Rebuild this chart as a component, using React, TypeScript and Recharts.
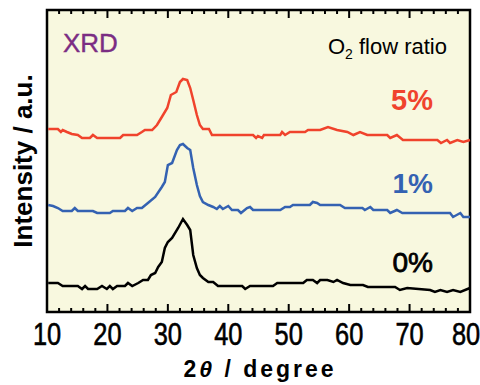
import { LineChart, Line, XAxis, YAxis, CartesianGrid, ReferenceArea } from 'recharts'

const FONT = '"Liberation Sans", Arial, sans-serif'
const W = 480
const H = 385
const MARGIN = { top: 10, right: 10, bottom: 0, left: 47 }
const X_AXIS_H = 73
const PLOT_H = H - MARGIN.top - MARGIN.bottom - X_AXIS_H

// ── Data (2θ in degree, intensity in a.u.) ─────────────────────────────────
const xTicks = [10, 12, 14, 16, 18, 20, 22, 24, 26, 28, 30, 32, 34, 36, 38, 40, 42, 44, 46, 48, 50,
  52, 54, 56, 58, 60, 62, 64, 66, 68, 70, 72, 74, 76, 78, 80]
const xDomain = [10, 80]
const yDomain = [0, 302]

const ratio5: [number, number][] = [
  [10.2, 183], [11.8, 183], [12.3, 180], [12.6, 182], [13.3, 180], [14.1, 178], [15.1, 177], [15.8, 174],
  [17.1, 174], [17.6, 177], [18.3, 174], [22.1, 174], [22.6, 177], [24.9, 177], [25.7, 180], [26.2, 182],
  [27.4, 182], [28.2, 187], [29.0, 195], [29.9, 204], [30.5, 217], [31.4, 220], [32.0, 230], [32.5, 233],
  [33.2, 232], [33.7, 224], [34.2, 212], [34.8, 197], [35.3, 187], [35.8, 183], [36.8, 183], [37.3, 177],
  [44.1, 177], [44.6, 174], [44.9, 176], [45.6, 174], [45.9, 177], [48.6, 177], [48.9, 180], [49.4, 177],
  [50.2, 180], [52.7, 180], [53.2, 182], [55.2, 182], [56.5, 185], [58.0, 182], [59.7, 180], [60.7, 177],
  [61.8, 180], [63.0, 177], [66.3, 177], [66.8, 174], [67.9, 177], [68.9, 172], [74.6, 172], [75.2, 169],
  [76.2, 172], [76.7, 169], [77.9, 172], [78.9, 170], [80.0, 172],
]

const ratio1: [number, number][] = [
  [10.2, 107], [11.0, 106], [11.8, 104], [12.6, 101], [14.1, 101], [14.6, 104], [15.1, 101], [17.6, 101],
  [18.3, 99], [20.4, 99], [20.9, 101], [22.9, 101], [23.4, 104], [24.1, 101], [24.9, 104], [25.7, 104],
  [26.7, 109], [27.9, 115], [29.0, 125], [29.5, 130], [30.0, 147], [30.7, 149], [31.5, 162], [32.0, 167],
  [32.5, 168], [33.2, 164], [33.7, 162], [34.2, 144], [34.8, 127], [35.3, 116], [35.8, 110], [36.7, 107],
  [37.5, 105], [38.1, 103], [38.6, 106], [39.1, 103], [40.0, 106], [40.6, 102], [41.6, 102], [42.1, 99],
  [43.1, 104], [43.6, 105], [44.1, 102], [48.6, 102], [49.4, 105], [50.2, 105], [50.7, 107], [53.5, 107],
  [54.0, 110], [54.7, 109], [55.2, 107], [58.5, 107], [59.3, 104], [62.2, 104], [62.6, 102], [63.5, 105],
  [64.0, 102], [66.3, 102], [66.8, 99], [67.9, 102], [68.8, 99], [76.7, 99], [77.2, 95], [78.4, 99],
  [78.9, 95], [80.0, 95],
]

const ratio0: [number, number][] = [
  [10.2, 29], [11.8, 29], [12.6, 26], [15.1, 26], [15.8, 23], [16.3, 26], [16.8, 23], [18.3, 23],
  [19.1, 26], [19.9, 23], [20.4, 26], [20.9, 23], [21.6, 26], [22.9, 26], [23.4, 29], [24.1, 26],
  [25.1, 29], [25.9, 32], [26.7, 32], [27.2, 37], [27.9, 39], [28.4, 45], [29.0, 50], [29.5, 64],
  [30.0, 70], [30.7, 74], [31.7, 84], [32.5, 93], [33.2, 87], [33.7, 82], [34.2, 57], [34.8, 44],
  [35.3, 37], [35.8, 34], [36.7, 30], [37.5, 30], [38.3, 26], [42.3, 26], [42.8, 23], [43.6, 26],
  [47.4, 26], [48.1, 29], [52.4, 29], [53.0, 32], [54.0, 32], [54.7, 29], [55.2, 32], [56.4, 32],
  [57.4, 30], [58.0, 32], [59.0, 29], [60.2, 27], [62.3, 27], [63.1, 25], [67.6, 25], [68.4, 22],
  [69.6, 24], [73.4, 22], [74.2, 20], [75.1, 22], [76.2, 20], [77.2, 22], [78.4, 20], [80.0, 24],
]

const series = [
  { name: '5%', points: ratio5, color: '#f0432c' },
  { name: '1%', points: ratio1, color: '#3462b2' },
  { name: '0%', points: ratio0, color: '#000000' },
]

const toRows = (pts: [number, number][]) => pts.map(([x, y]) => ({ x, y }))

// ── Ticks: inward on bottom and top frame, major every 10° ──────────────────
function FrameTick({ x, y, payload }: any) {
  const major = payload.value % 10 === 0
  const len = major ? 8 : 4
  const top = y - PLOT_H
  // last label sits on the right edge; nudge it in so it is not clipped
  const lx = payload.value === 80 ? x - 4 : x
  return (
    <g>
      <line x1={x} x2={x} y1={y} y2={y - len} stroke="#000" strokeWidth={2} />
      <line x1={x} x2={x} y1={top} y2={top + len} stroke="#000" strokeWidth={2} />
      {major && (
        <text transform={`translate(${lx},${y + 33}) scale(0.82,1)`} textAnchor="middle"
          fontSize={31} fontFamily={FONT} fill="#000" stroke="#000" strokeWidth={0.6}>{payload.value}</text>
      )}
    </g>
  )
}

export default function App() {
  return (
    <div style={{ position: 'fixed', left: 0, top: 0, width: W, height: H, background: '#fff' }}>
      <LineChart width={W} height={H} margin={MARGIN}>
        <CartesianGrid fill="#f8f8df" horizontal={false} vertical={false} />
        <XAxis dataKey="x" type="number" domain={xDomain} ticks={xTicks} interval={0}
          height={X_AXIS_H} axisLine={false} tickLine={false} tickSize={0} tickMargin={0} tick={<FrameTick />} />
        <YAxis type="number" domain={yDomain} hide />
        {series.map(s => (
          <Line key={s.name} data={toRows(s.points)} dataKey="y" name={s.name} stroke={s.color}
            strokeWidth={2.5} dot={false} activeDot={false} isAnimationActive={false} type="linear" />
        ))}
        <ReferenceArea x1={10} x2={80} y1={0} y2={302} fill="none" stroke="#000" strokeWidth={2.5} />
      </LineChart>
      <svg width={W} height={H} style={{ position: 'absolute', left: 0, top: 0, pointerEvents: 'none' }}
        fontFamily={FONT}>
        <text x={63} y={52} fontSize={26} fill="#7b2d83" stroke="#7b2d83" strokeWidth={0.4}>XRD</text>
        <text x={447} y={54} fontSize={22} fill="#000" textAnchor="end">
          O<tspan fontSize={14} dy={5}>2</tspan><tspan dy={-5}> flow ratio</tspan>
        </text>
        <text x={433} y={110} fontSize={29} fontWeight="bold" fill="#f0432c" textAnchor="end">5%</text>
        <text x={433} y={193} fontSize={28} fontWeight="bold" fill="#3462b2" textAnchor="end">1%</text>
        <text x={433} y={272} fontSize={28} fill="#000" stroke="#000" strokeWidth={0.8} textAnchor="end">0%</text>
        <text transform="translate(32,161) rotate(-90)" textAnchor="middle" fontSize={26} fontWeight="bold" fill="#000">
          Intensity / a.u.
        </text>
        <text x={260} y={377} textAnchor="middle" fontSize={23} fontWeight="bold" letterSpacing={3} fill="#000">
          2<tspan fontStyle="italic">θ</tspan> / degree
        </text>
      </svg>
    </div>
  )
}
